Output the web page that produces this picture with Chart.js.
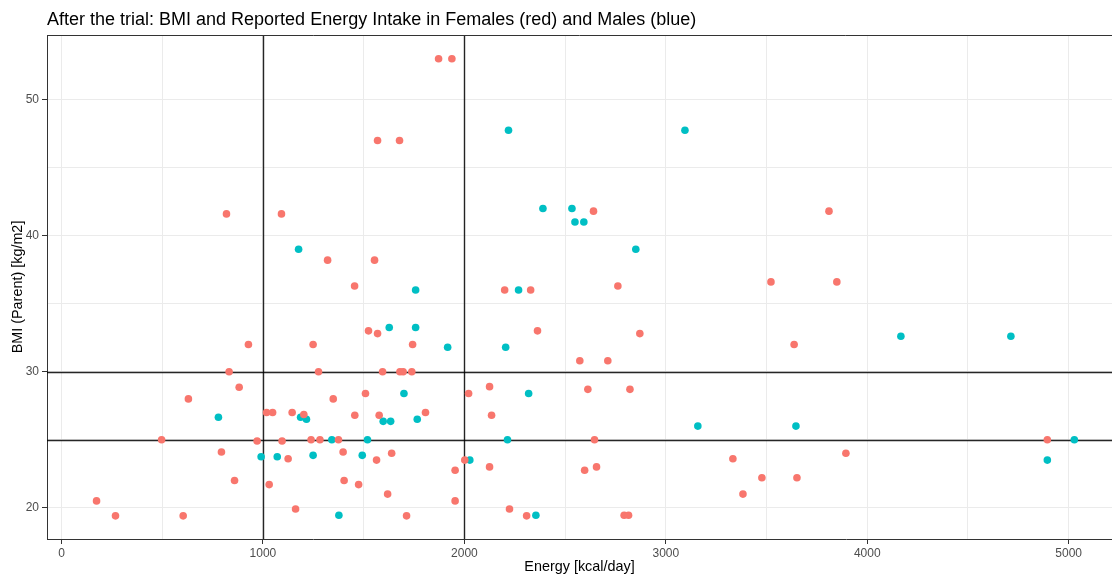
<!DOCTYPE html>
<html>
<head>
<meta charset="utf-8">
<script src="https://cdn.jsdelivr.net/npm/chart.js@4"></script>
<style>
  html, body { margin: 0; padding: 0; background: #fff; overflow: hidden; }
  canvas { display: block; }
</style>
</head>
<body>
<canvas id="scatter" width="1112" height="577"></canvas>
<script>
const chartTitle = 'After the trial: BMI and Reported Energy Intake in Females (red) and Males (blue)';

// females (red)
const femaleEnergy = [819, 1092, 1321, 928, 1249, 832, 1276, 882, 630, 1018, 1048, 1145, 1203, 1349, 497, 971, 1095, 1239, 1283, 1375,
    794, 1125, 859, 1031, 174, 268, 604, 1162, 1872, 1938, 1569, 1678, 2641, 1554, 1455, 2200, 2329, 1524, 1569, 2363,
    1743, 2573, 2613, 1594, 1680, 1696, 1739, 1509, 2021, 2125, 1456, 1577, 1807, 1398, 1564, 1639, 1403, 1475, 1619, 1713,
    2135, 2002, 1954, 2125, 1954, 2224, 2309, 2646, 2597, 2656, 3810, 2762, 3522, 3849, 2871, 3637, 2712, 2822, 3333, 3477,
    3651, 3383, 3894, 2793, 2815, 4894];
const femaleBmi = [41.6, 41.6, 38.2, 32, 32, 30, 30, 28.85, 28, 27, 27, 27, 26.85, 28, 25, 24.9, 24.9, 25, 25, 25,
    24.1, 23.6, 22, 21.7, 20.5, 19.4, 19.4, 19.9, 53, 53, 47, 47, 41.8, 38.2, 36.3, 36, 36, 33, 32.8, 33,
    32, 30.8, 28.7, 30, 30, 30, 30, 28.4, 28.4, 28.9, 26.8, 26.8, 27, 24.1, 23.5, 24, 22, 21.7, 21, 19.4,
    26.8, 23.5, 22.75, 23, 20.5, 19.9, 19.4, 25, 22.75, 23, 41.8, 36.3, 36.6, 36.6, 32.8, 32, 30.8, 28.7, 23.6, 22.2,
    22.2, 21, 24, 19.45, 19.45, 25];

// males (blue)
const maleEnergy = [1177, 779, 1187, 1216, 1342, 991, 1071, 1249, 1377, 2219, 2390, 2534, 2549, 2593, 1758, 2269, 1627, 1758, 1917, 2205,
    1700, 2319, 1597, 1634, 1766, 1519, 1493, 2214, 2027, 2355, 3095, 2851, 3159, 3646, 4167, 4713, 5028, 4894];
const maleBmi = [39, 26.65, 26.65, 26.5, 25, 23.75, 23.75, 23.85, 19.45, 47.75, 42, 42, 41, 41, 36, 36, 33.25, 33.25, 31.8, 31.8,
    28.4, 28.4, 26.35, 26.35, 26.5, 25, 23.85, 25, 23.5, 19.45, 47.75, 39, 26, 26, 32.6, 32.6, 25, 23.5];

// cut-off lines
const energyCuts = [1000, 2000];
const bmiCuts = [25, 30];

const xTicks = [0, 500, 1000, 1500, 2000, 2500, 3000, 3500, 4000, 4500, 5000];
const yTicks = [20, 25, 30, 35, 40, 45, 50];
const xLabelled = [0, 1000, 2000, 3000, 4000, 5000];
const yLabelled = [20, 30, 40, 50];

const toPoints = (xs, ys) => xs.map((x, i) => ({ x: x, y: ys[i] }));

const font = '"Liberation Sans", Arial, sans-serif';

const cutLines = {
    id: 'cutLines',
    beforeDatasetsDraw(chart) {
        const { ctx, chartArea, scales } = chart;
        ctx.save();
        ctx.strokeStyle = 'rgba(0,0,0,0.85)';
        ctx.lineWidth = 1.4;
        energyCuts.forEach(v => {
            const px = Math.round(scales.x.getPixelForValue(v)) + 0.5;
            ctx.beginPath();
            ctx.moveTo(px, chartArea.top);
            ctx.lineTo(px, chartArea.bottom);
            ctx.stroke();
        });
        bmiCuts.forEach(v => {
            const py = Math.round(scales.y.getPixelForValue(v)) + 0.5;
            ctx.beginPath();
            ctx.moveTo(chartArea.left, py);
            ctx.lineTo(chartArea.right, py);
            ctx.stroke();
        });
        ctx.restore();
    },
    afterDraw(chart) {
        const { ctx, chartArea } = chart;
        ctx.save();
        // top border of the panel
        ctx.strokeStyle = '#333';
        ctx.lineWidth = 1;
        ctx.beginPath();
        ctx.moveTo(chartArea.left, chartArea.top + 0.5);
        ctx.lineTo(chartArea.right, chartArea.top + 0.5);
        ctx.stroke();
        // title
        ctx.fillStyle = '#000';
        ctx.font = '18px ' + font;
        ctx.textBaseline = 'alphabetic';
        ctx.fillText(chartTitle, 47, 25);
        ctx.restore();
    }
};

const scatter = new Chart(document.getElementById('scatter'), {
    type: 'scatter',
    data: {
        datasets: [{
            label: 'Females',
            data: toPoints(femaleEnergy, femaleBmi),
            backgroundColor: '#F8766D',
            borderWidth: 0,
            pointRadius: 3.8
        }, {
            label: 'Males',
            data: toPoints(maleEnergy, maleBmi),
            backgroundColor: '#00BFC4',
            borderWidth: 0,
            pointRadius: 3.8
        }]
    },
    options: {
        responsive: false,
        animation: false,
        layout: { autoPadding: false, padding: { top: 35, left: 0, right: 0, bottom: 0 } },
        plugins: {
            legend: { display: false },
            tooltip: { enabled: false }
        },
        scales: {
            x: {
                type: 'linear',
                min: -72,
                max: 5215,
                afterBuildTicks: (scale) => { scale.ticks = xTicks.map(v => ({ value: v })); },
                afterFit: (scale) => {
                    scale.height = 38;
                    scale.paddingLeft = 0;
                    scale.paddingRight = 0;
                },
                border: { display: true, color: '#333', width: 1 },
                grid: {
                    color: '#EBEBEB',
                    lineWidth: 1,
                    tickLength: 5,
                    tickColor: (c) => xLabelled.includes(c.tick.value) ? '#333' : 'rgba(0,0,0,0)'
                },
                ticks: {
                    autoSkip: false,
                    maxRotation: 0,
                    padding: 2,
                    color: '#4D4D4D',
                    font: { family: font, size: 12 },
                    callback: (v) => xLabelled.includes(v) ? String(v) : ''
                },
                title: {
                    display: true,
                    text: 'Energy [kcal/day]',
                    color: '#000',
                    font: { family: font, size: 14.4 },
                    padding: { top: 0, bottom: 1 }
                }
            },
            y: {
                type: 'linear',
                min: 17.7,
                max: 54.75,
                afterBuildTicks: (scale) => { scale.ticks = yTicks.map(v => ({ value: v })); },
                afterFit: (scale) => {
                    scale.width = 47;
                    scale.paddingTop = 0;
                    scale.paddingBottom = 0;
                },
                border: { display: true, color: '#333', width: 1 },
                grid: {
                    color: '#EBEBEB',
                    lineWidth: 1,
                    tickLength: 5,
                    tickColor: (c) => yLabelled.includes(c.tick.value) ? '#333' : 'rgba(0,0,0,0)'
                },
                ticks: {
                    autoSkip: false,
                    padding: 3,
                    color: '#4D4D4D',
                    font: { family: font, size: 12 },
                    callback: (v) => yLabelled.includes(v) ? String(v) : ''
                },
                title: {
                    display: true,
                    text: 'BMI (Parent) [kg/m2]',
                    color: '#000',
                    font: { family: font, size: 14.4 },
                    padding: { top: 9, bottom: 0 }
                }
            }
        }
    },
    plugins: [cutLines]
});
</script>
</body>
</html>
